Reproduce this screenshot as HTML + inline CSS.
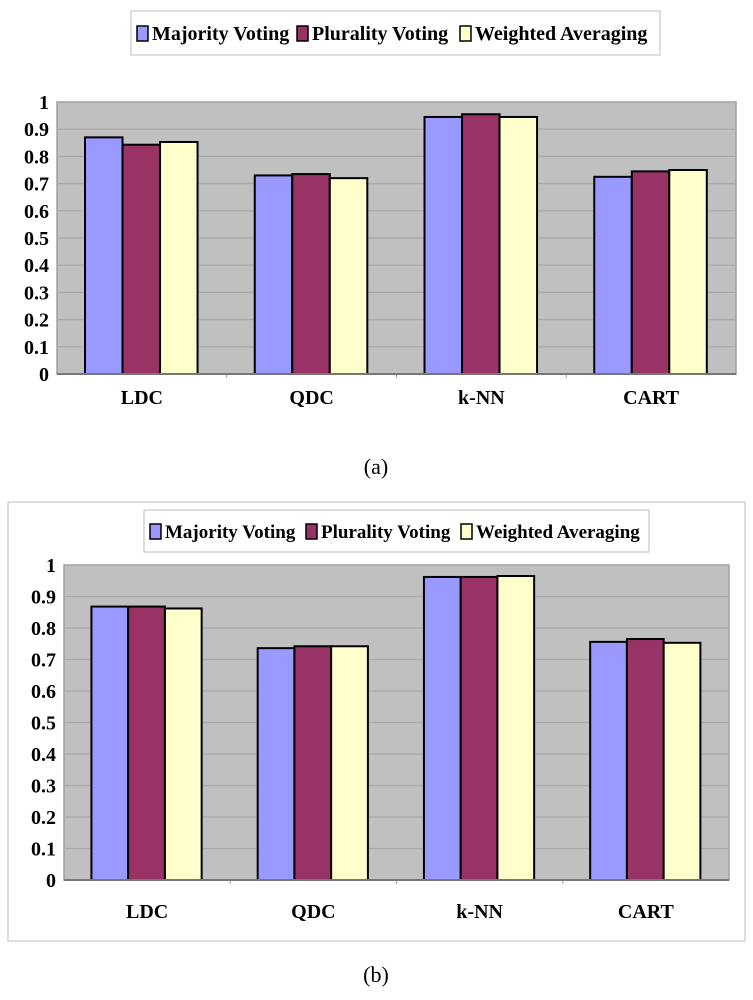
<!DOCTYPE html>
<html><head><meta charset="utf-8"><style>
body{margin:0;background:#fff;width:753px;height:1000px;overflow:hidden}
svg{position:absolute;left:0;top:0}
text{font-family:"Liberation Serif",serif;font-weight:bold}
</style></head><body>
<svg id="s" width="753" height="1000"></svg>
<script>
const categories=["LDC","QDC","k-NN","CART"];
const seriesNames=["Majority Voting","Plurality Voting","Weighted Averaging"];
const colors=["#9999ff","#993366","#ffffcc"];
const tickLabels=["0","0.1","0.2","0.3","0.4","0.5","0.6","0.7","0.8","0.9","1"];
const valuesA_majority=[0.870,0.730,0.945,0.725];
const valuesA_plurality=[0.843,0.735,0.955,0.745];
const valuesA_weighted=[0.853,0.720,0.945,0.750];
const valuesB_majority=[0.868,0.736,0.962,0.756];
const valuesB_plurality=[0.868,0.742,0.962,0.765];
const valuesB_weighted=[0.862,0.742,0.965,0.753];
const NS="http://www.w3.org/2000/svg";
const svg=document.getElementById('s');
function mk(tag,attrs,parent,txt){const e=document.createElementNS(NS,tag);for(const k in attrs)e.setAttribute(k,attrs[k]);if(txt!==undefined)e.textContent=txt;(parent||svg).appendChild(e);return e;}
function chart(id,cfg,series){
  const g=mk('g',{});
  
  
  const {x0,x1,yTop,yBot}=cfg;
  const y=v=>yBot-(yBot-yTop)*v;
  const bw=(x1-x0)/categories.length;
  const barW=bw*0.221;
  const xb=(ci,si)=>x0+bw*ci+bw*0.165+barW*si;
  const bg=mk('rect',{x:x0,y:yTop,width:x1-x0,height:yBot-yTop,fill:"#c0c0c0",stroke:"#a0a0a0","stroke-width":1.5},g);
  
  
  tickLabels.forEach((t,i)=>{
    const v=i/10;
    if(i>0){const l=mk('line',{x1:x0,x2:x1,y1:y(v),y2:y(v),stroke:"#a8a8a8","stroke-width":1.2},g);
      
      }
    const tx=mk('text',{x:x0-8,y:y(v)+7,"text-anchor":"end","font-size":20},g,t);
    
    
  });
  categories.forEach((c,ci)=>{
    series.forEach((vals,si)=>{
      const r=mk('rect',{x:xb(ci,si),y:y(vals[ci]),width:barW,height:yBot-y(vals[ci]),fill:colors[si],stroke:"#000","stroke-width":2},g);
      
      
    });
    if(ci>0){const tk=mk('line',{x1:x0+bw*ci,x2:x0+bw*ci,y1:yBot,y2:yBot+4,stroke:"#a0a0a0"},g);
      
      }
    const lt=mk('text',{x:x0+bw*(ci+0.5),y:cfg.labY,"text-anchor":"middle","font-size":20},g,c);
    
    
  });
  const ax=mk('line',{x1:x0,x2:x1,y1:yBot,y2:yBot,stroke:"#777","stroke-width":2},g);
  
  
  const L=cfg.leg;
  const lb=mk('rect',{x:L.x,y:L.y,width:L.w,height:L.h,fill:"#fff",stroke:"#c8c8c8","stroke-width":1.2},g);
  
  
  const offs=L.offs;
  seriesNames.forEach((n,si)=>{
    const sw=mk('rect',{x:L.x+offs[si],y:L.y+L.h/2-7,width:11,height:15,fill:colors[si],stroke:"#000","stroke-width":1.5},g);
    
    
    const t=mk('text',{x:L.x+offs[si]+15,y:L.y+L.h/2+7,"font-size":L.fs},g,n);
    
    
  });
  const cap=mk('text',{x:376,y:cfg.capY,"text-anchor":"middle","font-size":22,style:"font-weight:normal"},g,cfg.cap);
  
  
}
const frame=mk('rect',{x:8,y:502,width:737,height:439,fill:"none",stroke:"#c8c8c8","stroke-width":1.2});


chart('a',{x0:57,x1:736,yTop:102,yBot:374,labY:404,capY:474,cap:"(a)",leg:{x:131,y:11,w:529,h:44,fs:20,offs:[6,166,329]}},[valuesA_majority,valuesA_plurality,valuesA_weighted]);
chart('b',{x0:64,x1:729,yTop:565,yBot:880,labY:918,capY:982,cap:"(b)",leg:{x:144,y:510,w:505,h:42,fs:19,offs:[6,162,317]}},[valuesB_majority,valuesB_plurality,valuesB_weighted]);
</script>
</body></html>
